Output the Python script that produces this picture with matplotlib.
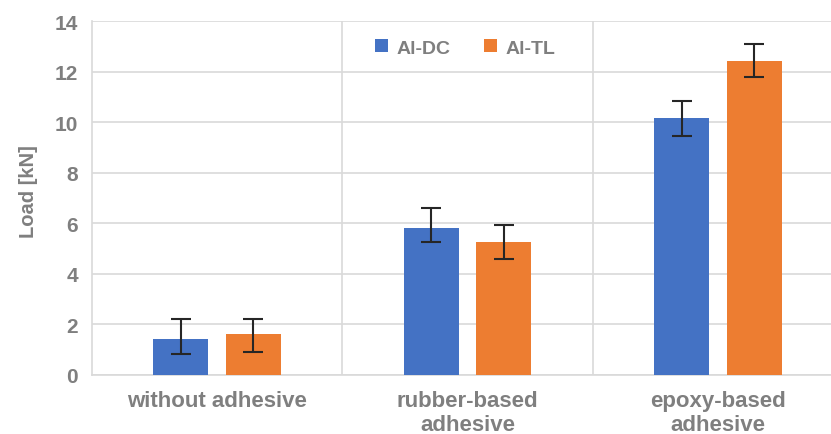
import matplotlib.pyplot as plt
import numpy as np

# =========================
# DATA
# =========================
categories = ["without adhesive", "rubber-based\nadhesive", "epoxy-based\nadhesive"]
series_names = ["Al-DC", "Al-TL"]
al_dc = [1.42, 5.80, 10.18]
al_dc_lo = [0.58, 0.55, 0.72]
al_dc_hi = [0.79, 0.80, 0.66]
al_tl = [1.61, 5.27, 12.42]
al_tl_lo = [0.71, 0.70, 0.65]
al_tl_hi = [0.60, 0.67, 0.68]
y_ticks = [0, 2, 4, 6, 8, 10, 12, 14]

# =========================
# STYLE
# =========================
blue = "#4472c4"
orange = "#ed7d31"
grey_text = "#7f7f7f"
grid_col = "#d9d9d9"
plt.rcParams["font.family"] = ["Liberation Sans", "DejaVu Sans"]
plt.rcParams["font.weight"] = "bold"

fig = plt.figure(figsize=(8.31, 4.35), dpi=100)
# plot area runs past the right edge, as in the reference crop
ax = fig.add_axes([92 / 831, 59 / 435, 751 / 831, 354 / 435])

x = np.arange(len(categories))
offset = 0.145
width = 0.22
err_kw = dict(ecolor="#262626", elinewidth=1.5, capsize=7, capthick=1.5)

ax.bar(x - offset, al_dc, width, color=blue, label=series_names[0],
       yerr=[al_dc_lo, al_dc_hi], error_kw=err_kw, zorder=3)
ax.bar(x + offset, al_tl, width, color=orange, label=series_names[1],
       yerr=[al_tl_lo, al_tl_hi], error_kw=err_kw, zorder=3)

ax.set_xlim(-0.5, 2.5)
ax.set_ylim(0, 14)
ax.set_yticks(y_ticks)
ax.set_xticks(x)
ax.set_xticklabels(categories, fontsize=16, color=grey_text, fontweight="bold",
                   linespacing=1.2)
ax.set_xticks([0.5, 1.5], minor=True)
ax.tick_params(axis="y", labelsize=15, labelcolor=grey_text, length=0, pad=10)
ax.tick_params(axis="x", which="both", length=0, pad=11)

ax.grid(axis="y", color=grid_col, linewidth=1.2, zorder=0)
ax.grid(axis="x", which="minor", color=grid_col, linewidth=1.2, zorder=0)
for side in ["top", "right"]:
    ax.spines[side].set_visible(False)
for side in ["left", "bottom"]:
    ax.spines[side].set_color(grid_col)
    ax.spines[side].set_linewidth(1.2)

ax.set_ylabel("Load [kN]", fontsize=14.5, color=grey_text, fontweight="bold")
ax.yaxis.set_label_coords(-0.072, 0.52)

leg = ax.legend(loc="upper center", bbox_to_anchor=(0.497, 0.998), ncol=2,
                frameon=False, fontsize=14, handlelength=0.65, handleheight=0.65,
                columnspacing=1.75, handletextpad=0.45)
for t in leg.get_texts():
    t.set_color(grey_text)

fig.savefig("out.png", dpi=100)
